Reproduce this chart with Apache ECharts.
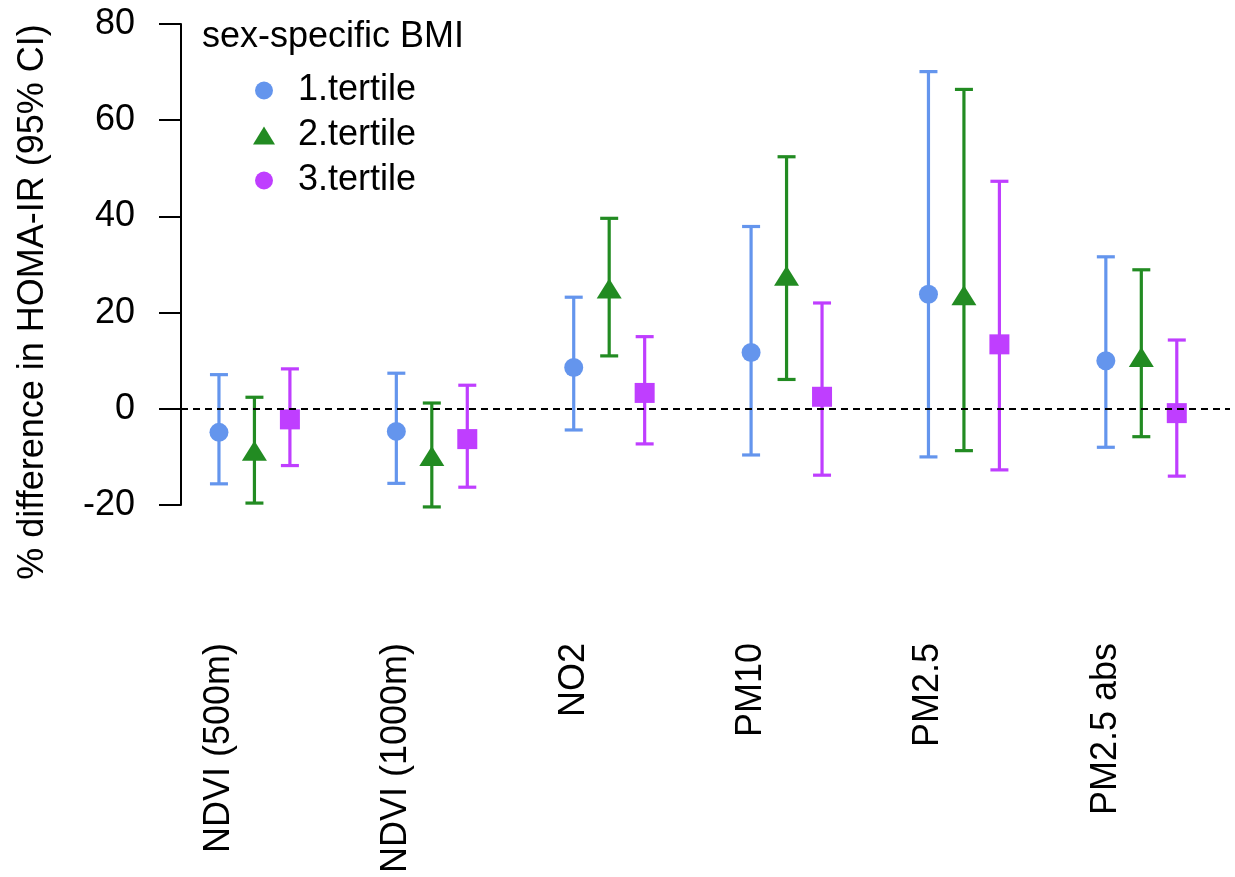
<!DOCTYPE html>
<html>
<head>
<meta charset="utf-8">
<title>HOMA-IR by BMI tertile</title>
<script src="https://cdn.jsdelivr.net/npm/echarts@6/dist/echarts.min.js"></script>
<style>
  html, body { margin: 0; padding: 0; background: #fff; }
  #chart { width: 1235px; height: 877px; }
</style>
</head>
<body>
<div id="chart"></div>
<script>
// exposures on the x axis
const categories = ['NDVI (500m)', 'NDVI (1000m)', 'NO2', 'PM10', 'PM2.5', 'PM2.5 abs']
const yTicks = [-20, 0, 20, 40, 60, 80]

// % difference in HOMA-IR, estimate and 95% CI, per BMI tertile
const t1Est = [-4.9, -4.7, 8.6, 11.7, 23.8, 10.0]
const t1Low = [-15.6, -15.5, -4.4, -9.6, -10.0, -8.0]
const t1High = [7.1, 7.4, 23.2, 37.9, 70.1, 31.6]

const t2Est = [-9.4, -10.5, 24.3, 27.0, 22.9, 10.1]
const t2Low = [-19.6, -20.4, 11.0, 6.1, -8.7, -5.8]
const t2High = [2.4, 1.2, 39.6, 52.4, 66.4, 28.9]

const t3Est = [-2.2, -6.3, 3.3, 2.5, 13.4, -0.9]
const t3Low = [-11.8, -16.3, -7.3, -13.8, -12.7, -14.0]
const t3High = [8.3, 4.9, 15.0, 22.0, 47.3, 14.3]

const FONT = '"Liberation Sans", Arial, Helvetica, sans-serif'
const FS = 36
const groups = [
  { name: '1.tertile', color: '#6495ED', offset: 0, est: t1Est, low: t1Low, high: t1High,
    symbol: 'circle', size: 19, symOffset: [0, 0] },
  { name: '2.tertile', color: '#228B22', offset: 0.2, est: t2Est, low: t2Low, high: t2High,
    symbol: 'triangle', size: [25, 20], symOffset: [0, -3.3] },
  { name: '3.tertile', color: '#BF3EFF', offset: 0.4, est: t3Est, low: t3Low, high: t3High,
    symbol: 'rect', size: 20, symOffset: [0, 0] }
]

const series = []
groups.forEach((g, gi) => {
  // error bars with caps
  series.push({
    name: g.name,
    type: 'custom',
    z: 2,
    clip: false,
    itemStyle: { color: g.color },
    data: categories.map((c, i) => [i + 1 + g.offset, g.low[i], g.high[i]]),
    encode: { x: 0, y: [1, 2] },
    renderItem: (params, api) => {
      const x = api.value(0)
      const lo = api.coord([x, api.value(1)])
      const hi = api.coord([x, api.value(2)])
      const half = 9
      const style = { stroke: g.color, lineWidth: 3.2, fill: null }
      return {
        type: 'group',
        children: [
          { type: 'line', shape: { x1: lo[0], y1: lo[1], x2: hi[0], y2: hi[1] }, style },
          { type: 'line', shape: { x1: lo[0] - half, y1: lo[1], x2: lo[0] + half, y2: lo[1] }, style },
          { type: 'line', shape: { x1: hi[0] - half, y1: hi[1], x2: hi[0] + half, y2: hi[1] }, style }
        ]
      }
    }
  })
  // point estimates
  const sc = {
    name: g.name,
    type: 'scatter',
    z: 3,
    symbol: g.symbol,
    symbolSize: g.size,
    symbolOffset: g.symOffset,
    itemStyle: { color: g.color, opacity: 1 },
    data: categories.map((c, i) => [i + 1 + g.offset, g.est[i]])
  }
  if (gi === 0) {
    sc.markLine = {
      silent: true,
      symbol: 'none',
      label: { show: false },
      lineStyle: { color: '#000', type: [7, 5], width: 1.8 },
      data: [{ yAxis: 0 }]
    }
  }
  series.push(sc)
})

const chart = echarts.init(document.getElementById('chart'))
chart.setOption({
  backgroundColor: '#fff',
  animation: false,
  textStyle: { fontFamily: FONT },
  title: {
    text: 'sex-specific BMI',
    left: 202,
    top: 19,
    padding: 0,
    textStyle: { fontFamily: FONT, fontSize: FS, fontWeight: 'normal', color: '#000' }
  },
  legend: {
    orient: 'vertical',
    left: 253,
    top: 70,
    padding: 0,
    itemGap: 4,
    itemWidth: 22,
    itemHeight: 18,
    selectedMode: false,
    data: [
      { name: '1.tertile', icon: 'circle', itemStyle: { color: '#6495ED' } },
      { name: '2.tertile', icon: 'triangle', itemStyle: { color: '#228B22' } },
      { name: '3.tertile', icon: 'circle', itemStyle: { color: '#BF3EFF' } }
    ],
    textStyle: {
      fontFamily: FONT, fontSize: FS, color: '#000', lineHeight: 41,
      padding: [0, 0, 0, 18]
    }
  },
  graphic: [{
    type: 'text',
    x: 33,
    y: 302,
    rotation: Math.PI / 2,
    style: {
      text: '% difference in HOMA-IR (95% CI)',
      font: FS + 'px ' + FONT,
      fill: '#000',
      align: 'center',
      verticalAlign: 'middle'
    }
  }],
  grid: { left: 181, right: 5, top: 24, bottom: 372 },
  xAxis: {
    type: 'value',
    min: 0.786,
    max: 6.7,
    axisLine: { show: false },
    axisTick: { show: false },
    splitLine: { show: false },
    axisLabel: {
      customValues: categories.map((c, i) => i + 1),
      formatter: v => categories[Math.round(v) - 1] || '',
      rotate: 90,
      margin: 138,
      fontFamily: FONT,
      fontSize: FS,
      color: '#000'
    }
  },
  yAxis: {
    type: 'value',
    min: yTicks[0],
    max: yTicks[yTicks.length - 1],
    interval: 20,
    axisLine: { show: true, lineStyle: { color: '#000', width: 2 } },
    axisTick: { show: true, length: 22, lineStyle: { color: '#000', width: 2 } },
    splitLine: { show: false },
    axisLabel: {
      margin: 46,
      fontFamily: FONT,
      fontSize: FS,
      color: '#000'
    }
  },
  series
})
</script>
</body>
</html>
